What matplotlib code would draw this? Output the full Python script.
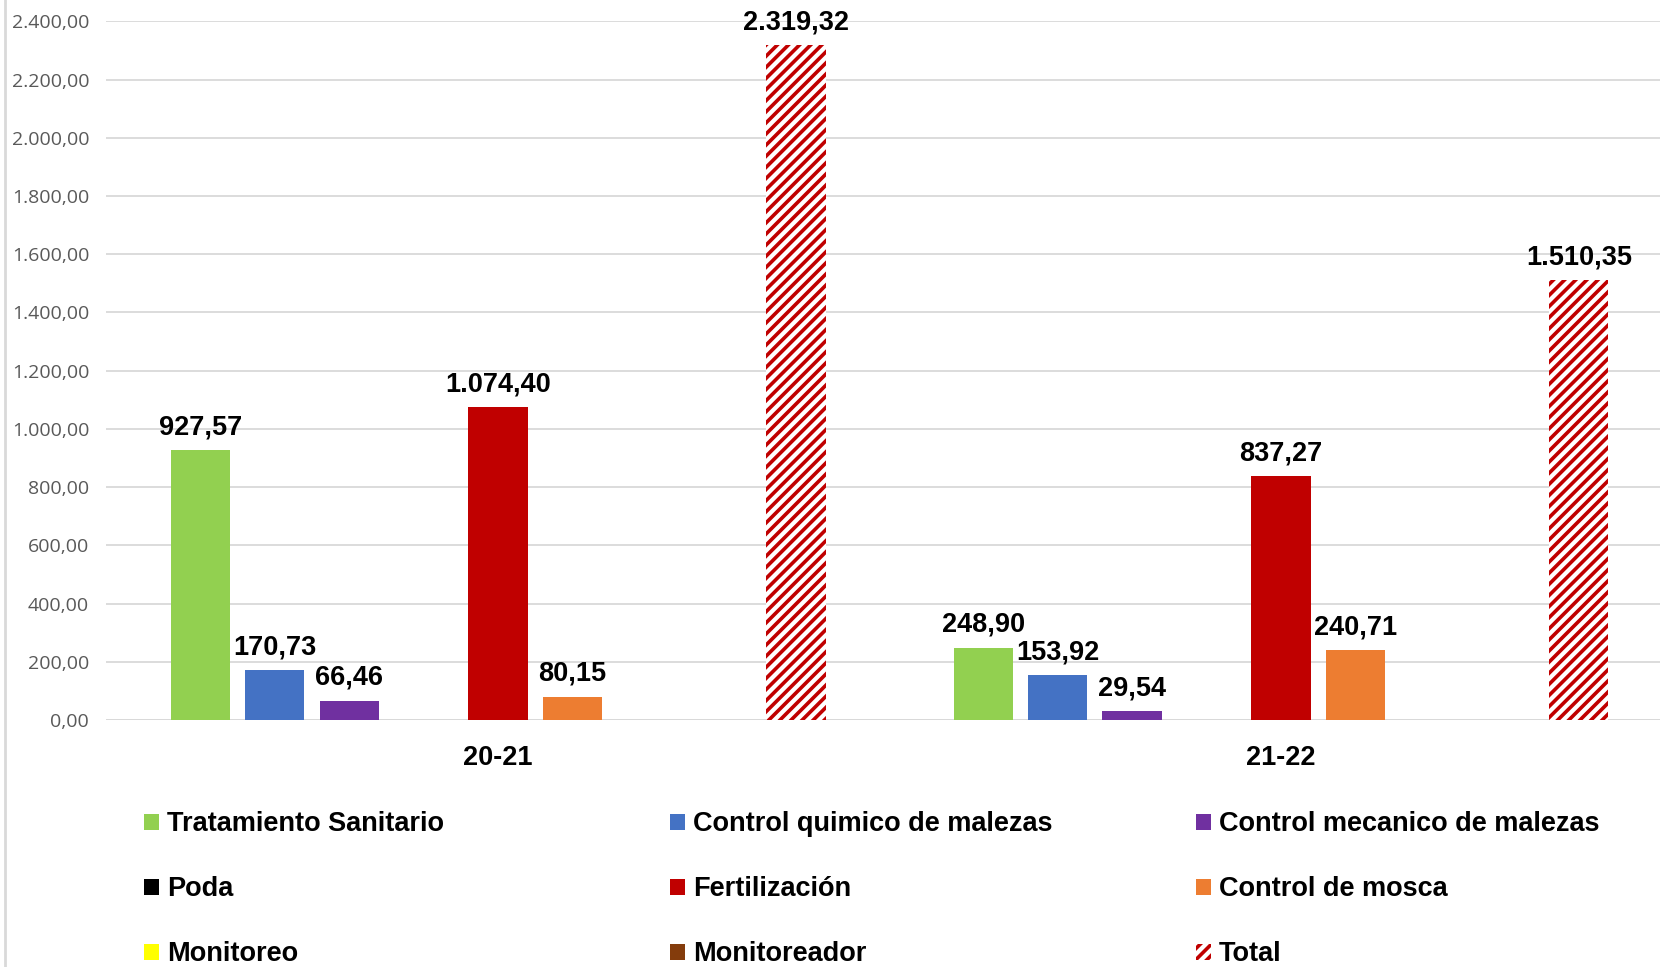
import matplotlib
matplotlib.use("Agg")
import matplotlib.pyplot as plt
import numpy as np
from matplotlib.lines import Line2D
from matplotlib.patches import Patch

# data
campaigns = ["20-21", "21-22"]
series = ["Tratamiento Sanitario", "Control quimico de malezas", "Control mecanico de malezas",
          "Poda", "Fertilización", "Control de mosca",
          "Monitoreo", "Monitoreador", "Total"]
tratamiento = [927.57, 248.90]
control_quimico = [170.73, 153.92]
control_mecanico = [66.46, 29.54]
poda = [np.nan, np.nan]
fertilizacion = [1074.40, 837.27]
control_mosca = [80.15, 240.71]
monitoreo = [np.nan, np.nan]
monitoreador = [np.nan, np.nan]
total = [2319.32, 1510.35]

values = [tratamiento, control_quimico, control_mecanico, poda, fertilizacion,
          control_mosca, monitoreo, monitoreador, total]
colors = ["#92D050", "#4472C4", "#7030A0", "#000000", "#C00000", "#ED7D31",
          "#FFFF00", "#843C0C", "#C00000"]

BOLD = "Liberation Sans"
plt.rcParams["hatch.linewidth"] = 2.6


def fmt(v):
    s = f"{v:,.2f}"
    return s.replace(",", "X").replace(".", ",").replace("X", ".")


fig = plt.figure(figsize=(16.6, 9.67), dpi=100)
ax = fig.add_axes([0.0638, 0.2554, 0.9437, 0.7226])

x = np.arange(len(campaigns))
step = 0.0951
width = 0.0757

legend_handles = []
for i, (name, vals, col) in enumerate(zip(series, values, colors)):
    pos = x + (i - 4) * step
    if name == "Total":
        ax.bar(pos, vals, width, facecolor="white", edgecolor=col,
               hatch="///", linewidth=0, zorder=3)
        legend_handles.append(Patch(facecolor="white", edgecolor=col, hatch="///",
                                    linewidth=0, label=name))
    else:
        ax.bar(pos, vals, width, color=col, zorder=3)
        legend_handles.append(Patch(facecolor=col, label=name))
    for xp, v in zip(pos, vals):
        if np.isnan(v):
            continue
        ax.annotate(fmt(v), (xp, v), xytext=(0, 7), textcoords="offset points",
                    ha="center", va="bottom", fontsize=19.5, fontweight="bold",
                    family=BOLD, color="black", annotation_clip=False)

ax.set_xlim(-0.501, 1.5)
ax.set_ylim(0, 2400)
ax.set_yticks(np.arange(0, 2401, 200))
ax.set_yticklabels([fmt(t) for t in np.arange(0, 2401, 200)],
                   fontsize=14, family="Open Sans", color="#595959")
ax.set_xticks(x)
ax.set_xticklabels(campaigns, fontsize=19.5, fontweight="bold", family=BOLD)
ax.tick_params(axis="y", length=0, pad=12)
ax.tick_params(axis="x", length=0, pad=18)
ax.grid(axis="y", color="#D9D9D9", linewidth=1.3, zorder=0)
for s in ax.spines.values():
    s.set_visible(False)
ax.axhline(0, color="#D9D9D9", linewidth=1.3, zorder=1)

# chart area border on the left
fig.add_artist(Line2D([0.003, 0.003], [0, 1], color="#D9D9D9", linewidth=2,
                      transform=fig.transFigure))

# legend in three columns, row-major order like the original
col_x = [0.0870, 0.4038, 0.7203]
for c in range(3):
    hs = legend_handles[c::3]
    fig.legend(handles=hs, loc="upper left", bbox_to_anchor=(col_x[c], 0.161),
               frameon=False, ncol=1, handlelength=0.55, handleheight=0.55,
               handletextpad=0.3, labelspacing=1.44, borderpad=0, borderaxespad=0,
               prop={"family": BOLD, "weight": "bold", "size": 19.5})

fig.savefig("out.png", dpi=100)
